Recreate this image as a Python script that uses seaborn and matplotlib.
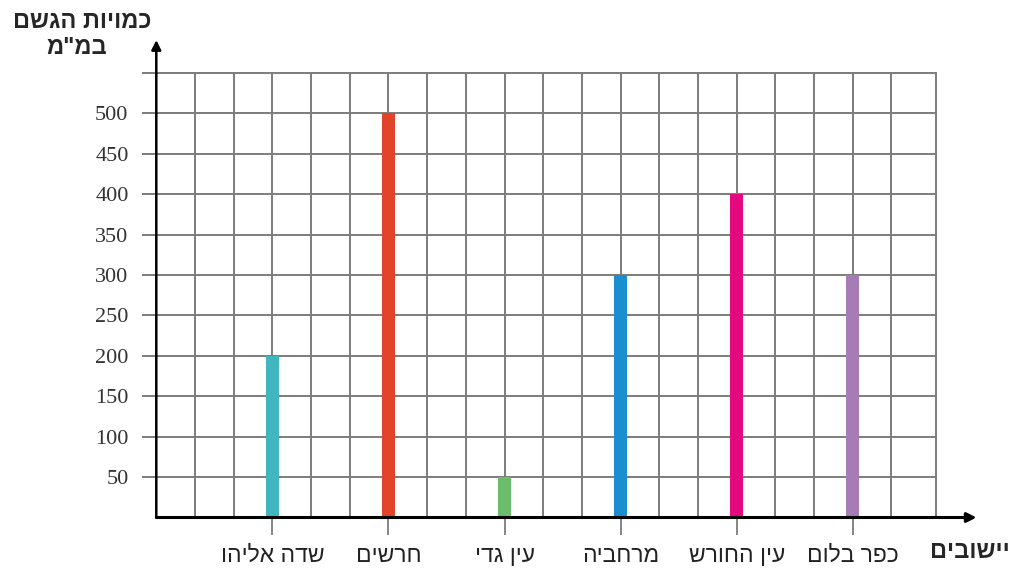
import seaborn as sns
import matplotlib.pyplot as plt
import pandas as pd

# data
settlements = ["שדה אליהו", "חרשים", "עין גדי", "מרחביה", "עין החורש", "כפר בלום"]
rain_mm = [200, 500, 50, 300, 400, 300]
bar_colors = ["#41b6bf", "#e2432b", "#6cbd6b", "#1c8ecf", "#e5097f", "#a77bb5"]
y_ticks = [50, 100, 150, 200, 250, 300, 350, 400, 450, 500, 550]
y_title = ["כמויות הגשם", 'במ"מ']
x_title = "יישובים"


def rtl(s):
    # matplotlib has no bidi support, so draw Hebrew in visual order
    return s[::-1]


df = pd.DataFrame({"settlement": settlements, "rain": rain_mm})

sns.set_style("white")
plt.rcParams['font.family'] = ['Liberation Sans', 'DejaVu Sans']

fig = plt.figure(figsize=(10.11, 5.68), dpi=100)
ax = fig.add_axes([0.1546, 0.0889, 0.7712, 0.7826])

grid_col = "#7c7c7c"
x_left, x_right = -1, -1 + 20.15 / 3

# grid
for k in range(1, 20):
    ax.axvline(-1 + k / 3, color=grid_col, lw=1.4, zorder=1)
for y in y_ticks:
    ax.axhline(y, color=grid_col, lw=1.4, zorder=1, clip_on=False)
ax.axvline(x_right, ymax=1, color=grid_col, lw=1.4, zorder=1, clip_on=False)

sns.barplot(data=df, x="settlement", y="rain", hue="settlement",
            palette=bar_colors, width=0.11, saturation=1, linewidth=0,
            legend=False, ax=ax, zorder=3)

ax.set_xlim(x_left, x_right)
ax.set_ylim(0, 550)
for s in ax.spines.values():
    s.set_visible(False)

ax.set_xticks(range(len(settlements)))
ax.set_xticklabels([rtl(s) for s in settlements], fontsize=16.5, color="#222222")
ax.tick_params(axis="x", length=12, width=1.3, color=grid_col, pad=7, direction="out",
               bottom=True)
ax.set_yticks(y_ticks)
ax.set_yticklabels([str(v) for v in y_ticks[:-1]] + [""], fontsize=16,
                   family="Liberation Serif", color="#333333")
ax.tick_params(axis="y", length=10, width=1.4, color=grid_col, pad=10, left=True)
ax.set_xlabel("")
ax.set_ylabel("")

# axes with arrows
ax.annotate("", xy=(1.052, 0), xytext=(0, 0), xycoords="axes fraction",
            arrowprops=dict(arrowstyle="-|>", lw=2.2, color="black", mutation_scale=14,
                            shrinkA=0, shrinkB=0), zorder=5)
ax.annotate("", xy=(0, 1.074), xytext=(0, 0), xycoords="axes fraction",
            arrowprops=dict(arrowstyle="-|>", lw=1.8, color="black", mutation_scale=14,
                            shrinkA=0, shrinkB=0), zorder=5)

fig.text(82 / 1011, 1 - 21 / 568, rtl(y_title[0]), ha="center", va="center",
         fontsize=17, fontweight="bold")
fig.text(77 / 1011, 1 - 48 / 568, rtl(y_title[1]), ha="center", va="center",
         fontsize=17, fontweight="bold")
fig.text(930 / 1011, 1 - 551 / 568, rtl(x_title), ha="left", va="center",
         fontsize=17, fontweight="bold")

plt.savefig("out.png", dpi=100)
